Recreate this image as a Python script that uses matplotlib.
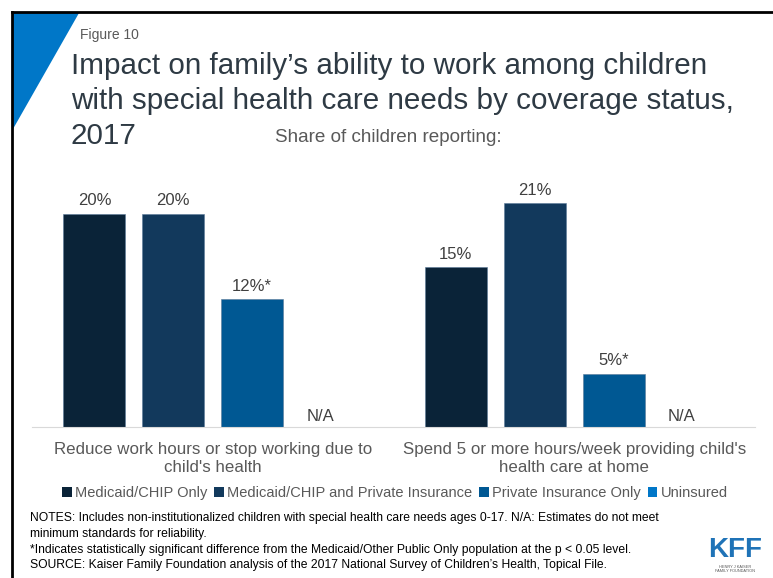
import numpy as np
import matplotlib
matplotlib.use("Agg")
import matplotlib.pyplot as plt
from matplotlib.patches import Patch, Polygon
from matplotlib.lines import Line2D

plt.rcParams["font.family"] = ["Liberation Sans", "DejaVu Sans"]

# data
categories = ["Reduce work hours or stop working due to\nchild's health",
              "Spend 5 or more hours/week providing child's\nhealth care at home"]
series = ["Medicaid/CHIP Only", "Medicaid/CHIP and Private Insurance",
          "Private Insurance Only", "Uninsured"]
values = [
    [20, 15],      # Medicaid/CHIP Only
    [20, 21],      # Medicaid/CHIP and Private Insurance
    [12, 5],       # Private Insurance Only
    [None, None],  # Uninsured (N/A)
]
labels = [
    ["20%", "15%"],
    ["20%", "21%"],
    ["12%*", "5%*"],
    ["N/A", "N/A"],
]
colors = ["#0A2338", "#12395C", "#005893", "#0077C8"]
title_lines = ["Impact on family\u2019s ability to work among children",
               "with special health care needs by coverage status,",
               "2017"]

W, H = 773, 578


def px(x, y):
    return x / W, 1 - y / H


fig = plt.figure(figsize=(W / 100, H / 100), dpi=100)

# slide frame and corner accent
fig.add_artist(Line2D([12 / W, 12 / W], [0, 1 - 12 / H], color="black", lw=2))
fig.add_artist(Line2D([12 / W, 1], [1 - 12 / H, 1 - 12 / H], color="black", lw=2))
fig.add_artist(Polygon([px(13, 13), px(79, 13), px(13, 129)], closed=True,
                       transform=fig.transFigure, color="#0077C8", lw=0))

fig.text(*px(80, 35), "Figure 10", fontsize=10, color="#595959", va="center")
for k, line in enumerate(title_lines):
    fig.text(*px(71, 66 + 35 * k), line, fontsize=21.3, color="#2E3A44", va="center")
fig.text(*px(275, 138), "Share of children reporting:", fontsize=13.6,
         color="#595959", va="center")

# bars
left, right = 32, 755
base, top = 427, 171
ax = fig.add_axes([left / W, 1 - base / H, (right - left) / W, (base - top) / H])
x = np.arange(len(categories))
width = 62 / 362
step = 79 / 362
for i, (name, vals) in enumerate(zip(series, values)):
    pos = x + (i - 1.5) * step
    for j, v in enumerate(vals):
        if v is None:
            ax.text(pos[j] - 0.03, 0.3, labels[i][j], ha="center", va="bottom",
                    fontsize=12, color="#404040")
            continue
        ax.bar(pos[j], v, width=width, color=colors[i], edgecolor="#5A7A99", lw=0.4)
        ax.text(pos[j], v + 0.5, labels[i][j], ha="center", va="bottom",
                fontsize=12, color="#404040")

ax.set_xlim(-0.5, 1.5)
ax.set_ylim(0, 24)
for s in ["top", "left", "right"]:
    ax.spines[s].set_visible(False)
ax.spines["bottom"].set_color("#D9D9D9")
ax.set_yticks([])
ax.set_xticks(x)
ax.set_xticklabels(categories, fontsize=12.2, color="#595959", linespacing=1.2)
ax.tick_params(axis="x", length=0, pad=11)

handles = [Patch(facecolor=c, edgecolor="none") for c in colors]
fig.legend(handles, series, loc="center", bbox_to_anchor=px(395, 493), ncol=4,
           frameon=False, fontsize=10.5, handlelength=0.65, handleheight=0.65,
           handletextpad=0.25, columnspacing=0.45, labelcolor="#595959")

notes = ("NOTES: Includes non-institutionalized children with special health care needs ages 0-17. "
         "N/A: Estimates do not meet\nminimum standards for reliability.\n"
         "*Indicates statistically significant difference from the Medicaid/Other Public Only "
         "population at the p < 0.05 level.\n"
         "SOURCE: Kaiser Family Foundation analysis of the 2017 National Survey of Children\u2019s "
         "Health, Topical File.")
fig.text(*px(30, 512), notes, fontsize=8.7, color="black", va="top", linespacing=1.42)

# logo
fig.text(*px(735, 550), "KFF", fontsize=20, fontweight="bold", color="#1F73B7",
         ha="center", va="center")
fig.text(*px(735, 569), "HENRY J KAISER\nFAMILY FOUNDATION", fontsize=2.8,
         color="#555555", ha="center", va="center", linespacing=1.1)

fig.savefig("out.png", dpi=100)
